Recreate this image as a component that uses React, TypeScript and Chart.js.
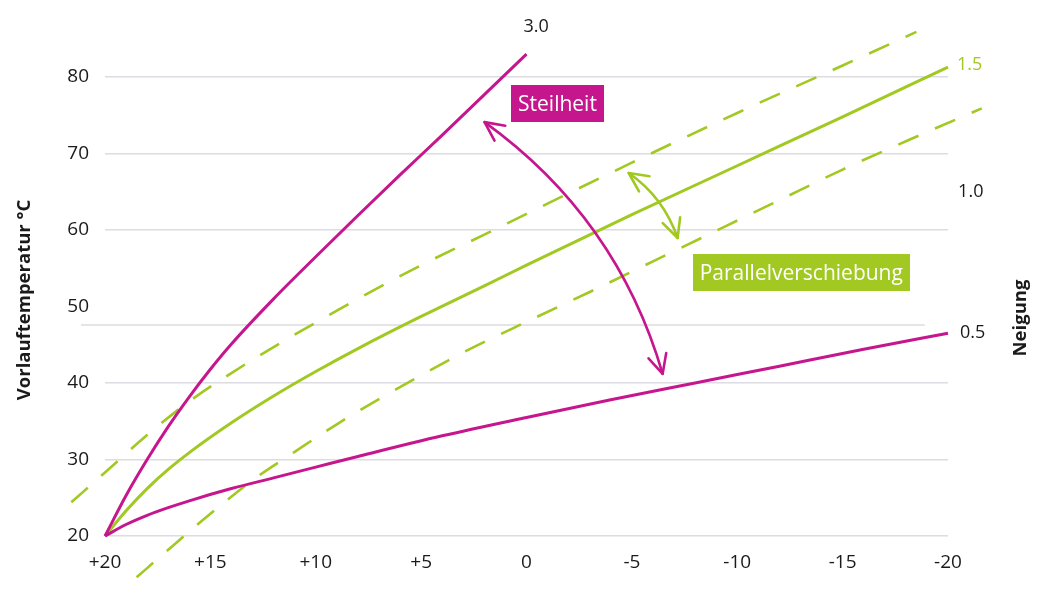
import React, { useEffect, useRef } from 'react';
import { Chart, registerables } from 'chart.js';

Chart.register(...registerables);

const MAGENTA = '#C6168D';
const GREEN = '#A2C822';
const GRID = '#dcdce2';
const INK = '#1a1a1a';
const FONT = "'Open Sans', sans-serif";

// Outdoor temperature (x) / flow temperature (y) for each heating curve
const steep30X = [20, 19, 18, 17, 16, 15, 14, 12, 10, 8, 6, 4, 2, 0];
const steep30Y = [20, 25.3, 30.0, 34.3, 38.2, 41.8, 45.1, 51.0, 56.5, 61.9, 67.2, 72.4, 77.7, 83.0];

const steep05X = [20, 19, 18, 17, 16, 14, 12, 10, 8, 4, 0, -4, -8, -12, -16, -20];
const steep05Y = [20, 21.5, 22.7, 23.7, 24.6, 26.2, 27.6, 29.0, 30.4, 33.1, 35.5, 37.8, 40.0, 42.2, 44.4, 46.5];

const steep15X = [20, 19, 18, 17, 16, 14, 12, 10, 8, 5, 2, 0, -5, -10, -15, -20];
const steep15Y = [20, 23.3, 26.2, 28.7, 30.9, 34.8, 38.3, 41.5, 44.5, 48.7, 52.7, 55.4, 62.0, 68.4, 74.8, 81.3];

const shiftUpX = [21.6, 20, 18, 16, 14, 12, 10, 8, 5, 2, 0, -5, -10, -15, -18.5];
const shiftUpY = [24.4, 28.3, 33.2, 37.6, 41.3, 44.7, 47.9, 51.0, 55.4, 59.4, 62.1, 68.8, 75.3, 81.5, 85.9];

const shiftDownX = [18.5, 17, 15, 13, 11, 9, 7, 5, 3, 0, -3, -6, -9, -12, -15, -18, -21.6];
const shiftDownY = [14.6, 18.2, 22.9, 27.3, 31.0, 34.6, 37.9, 41.0, 44.0, 48.0, 51.9, 55.9, 59.9, 63.9, 67.9, 71.6, 75.9];

// stray horizontal rule seen in the original near the 50 line
const strayRuleX = [21.14, -18.9];
const strayRuleY = [47.58, 47.58];

// axis ticks
const xTickStep = 5;
const yTickStep = 10;
const xMin = -20;
const xMax = 20;
const yMin = 20;
const yMax = 80;

// slope labels (Neigung)
const slopeLabels = ['3.0', '1.5', '1.0', '0.5'];
const slopeLabelX = [0.14, -20.43, -20.48, -20.57];
const slopeLabelY = [86.54, 81.57, 64.97, 46.54];
const slopeLabelColors = [INK, GREEN, INK, INK];

// annotation boxes
const boxTexts = ['Steilheit', 'Parallelverschiebung'];
const boxX = [-1.47, -13.04];
const boxY = [76.5, 54.4];
const boxColors = [MAGENTA, GREEN];

// double-headed curved arrows: start, control, end (data coords)
const arrowStart = [[1.99, 74.1], [-4.85, 67.45]];
const arrowCtrl = [[-4.3, 61.6], [-6.5, 64.3]];
const arrowEnd = [[-6.46, 41.2], [-7.17, 58.95]];
const arrowColors = [MAGENTA, GREEN];

const yTitle = 'Vorlauftemperatur °C';
const rightTitle = 'Neigung';

const pts = (xs: number[], ys: number[]) => xs.map((x, i) => ({ x, y: ys[i] }));

const annotPlugin = {
  id: 'annot',
  afterDatasetsDraw(chart: any) {
    const { ctx, scales } = chart;
    const xs = scales.x;
    const ys = scales.y;
    const P = (p: number[]) => [xs.getPixelForValue(p[0]), ys.getPixelForValue(p[1])];
    ctx.save();

    // arrows
    for (let i = 0; i < arrowStart.length; i++) {
      const a = P(arrowStart[i]);
      const c = P(arrowCtrl[i]);
      const b = P(arrowEnd[i]);
      ctx.strokeStyle = arrowColors[i];
      ctx.lineWidth = 2.6;
      ctx.lineCap = 'round';
      ctx.lineJoin = 'round';
      ctx.beginPath();
      ctx.moveTo(a[0], a[1]);
      ctx.quadraticCurveTo(c[0], c[1], b[0], b[1]);
      ctx.stroke();
      const head = (tip: number[], tow: number[]) => {
        const ang = Math.atan2(tow[1] - tip[1], tow[0] - tip[0]);
        const L = 21;
        const th = (26 * Math.PI) / 180;
        ctx.beginPath();
        ctx.moveTo(tip[0] + L * Math.cos(ang + th), tip[1] + L * Math.sin(ang + th));
        ctx.lineTo(tip[0], tip[1]);
        ctx.lineTo(tip[0] + L * Math.cos(ang - th), tip[1] + L * Math.sin(ang - th));
        ctx.stroke();
      };
      head(a, c);
      head(b, c);
    }

    // boxes
    ctx.font = `21px ${FONT}`;
    ctx.textAlign = 'center';
    ctx.textBaseline = 'middle';
    for (let i = 0; i < boxTexts.length; i++) {
      const [cx, cy] = P([boxX[i], boxY[i]]);
      const w = ctx.measureText(boxTexts[i]).width + 14;
      const h = 37;
      ctx.fillStyle = boxColors[i];
      ctx.fillRect(Math.round(cx - w / 2), Math.round(cy - h / 2), Math.round(w), h);
      ctx.fillStyle = '#ffffff';
      ctx.fillText(boxTexts[i], cx, cy + 1);
    }

    // slope labels
    ctx.font = `18px ${FONT}`;
    ctx.textAlign = 'left';
    for (let i = 0; i < slopeLabels.length; i++) {
      const [lx, ly] = P([slopeLabelX[i], slopeLabelY[i]]);
      ctx.fillStyle = slopeLabelColors[i];
      ctx.fillText(slopeLabels[i], lx, ly);
    }

    // titles
    ctx.fillStyle = INK;
    ctx.font = `bold 18.5px ${FONT}`;
    ctx.textAlign = 'center';
    ctx.save();
    ctx.translate(25, 300);
    ctx.rotate(-Math.PI / 2);
    ctx.fillText(yTitle, 0, 0);
    ctx.restore();
    ctx.save();
    ctx.translate(1021, 318);
    ctx.rotate(-Math.PI / 2);
    ctx.fillText(rightTitle, 0, 0);
    ctx.restore();

    ctx.restore();
  },
};

export default function App() {
  const ref = useRef<HTMLCanvasElement | null>(null);

  useEffect(() => {
    if (!ref.current) return;
    Chart.defaults.font.family = FONT;
    const solid = (data: any, color: string) => ({
      data,
      showLine: true,
      borderColor: color,
      backgroundColor: color,
      borderWidth: 3,
      pointRadius: 0,
      cubicInterpolationMode: 'monotone' as const,
      clip: false as any,
    });
    const dashed = (data: any, color: string) => ({
      ...solid(data, color),
      borderWidth: 2.6,
      borderDash: [22, 18],
      borderCapStyle: 'butt' as const,
    });
    const chart = new Chart(ref.current, {
      type: 'scatter',
      data: {
        datasets: [
          solid(pts(steep30X, steep30Y), MAGENTA),
          solid(pts(steep05X, steep05Y), MAGENTA),
          solid(pts(steep15X, steep15Y), GREEN),
          dashed(pts(shiftUpX, shiftUpY), GREEN),
          dashed(pts(shiftDownX, shiftDownY), GREEN),
          { ...solid(pts(strayRuleX, strayRuleY), GRID), borderWidth: 1.5 },
        ],
      },
      options: {
        responsive: false,
        animation: false,
        events: [],
        layout: { padding: { top: 77, right: 109, left: 0, bottom: 0 } },
        plugins: { legend: { display: false }, tooltip: { enabled: false } },
        scales: {
          x: {
            type: 'linear',
            min: xMin,
            max: xMax,
            reverse: true,
            grid: { display: false, drawTicks: false },
            border: { display: false },
            ticks: {
              stepSize: xTickStep,
              padding: 15,
              color: INK,
              font: { size: 19 },
              maxRotation: 0,
              autoSkip: false,
              callback: (v: any) => (v > 0 ? '+' + v : String(v)),
            },
            afterFit: (s: any) => {
              s.height = 64;
            },
          },
          y: {
            type: 'linear',
            min: yMin,
            max: yMax,
            grid: {
              color: (c: any) => (c.tick && c.tick.value === 50 ? 'rgba(0,0,0,0)' : GRID),
              lineWidth: 1.5,
              drawTicks: false,
            },
            border: { display: false },
            ticks: { stepSize: yTickStep, padding: 16, color: INK, font: { size: 19 } },
            afterFit: (s: any) => {
              s.width = 105;
            },
          },
        },
      },
      plugins: [annotPlugin],
    });
    return () => chart.destroy();
  }, []);

  return (
    <div style={{ position: 'fixed', left: 0, top: 0, width: 1057, height: 600, background: '#fff' }}>
      <canvas ref={ref} width={1057} height={600} style={{ display: 'block' }} />
    </div>
  );
}
